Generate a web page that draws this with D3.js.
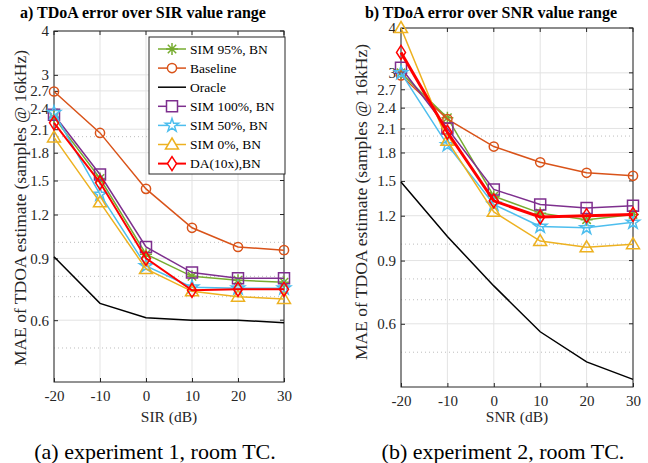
<!DOCTYPE html>
<html>
<head>
<meta charset="utf-8">
<script src="https://cdn.jsdelivr.net/npm/d3@7"></script>
<style>
  body { margin: 0; background: #fff; }
  svg text { font-family: "Liberation Serif", "DejaVu Serif", "Times New Roman", Times, serif; }
</style>
</head>
<body>
<svg width="648" height="463" font-family="Liberation Serif, DejaVu Serif, serif"></svg>
<script>
var xVals = [-20, -10, 0, 10, 20, 30];
var yTicks = [0.6, 0.9, 1.2, 1.5, 1.8, 2.1, 2.4, 2.7, 3, 4];
var yMinor = [0.5, 0.7, 0.8, 1, 2];

var names = ["SIM 95%, BN", "Baseline", "Oracle", "SIM 100%, BN", "SIM 50%, BN", "SIM 0%, BN", "DA(10x),BN"];
var colors = ["#77AC30", "#D95319", "#000000", "#7E2F8E", "#4DBEEE", "#EDB120", "#FF0000"];
var markers = ["asterisk", "circle", "none", "square", "star", "triangle", "diamond"];

// experiment 1: SIR
var sirSim95 = [2.27, 1.52, 0.925, 0.80, 0.78, 0.77];
var sirBaseline = [2.69, 2.05, 1.42, 1.10, 0.97, 0.95];
var sirOracle = [0.91, 0.67, 0.61, 0.60, 0.60, 0.59];
var sirSim100 = [2.31, 1.56, 0.97, 0.82, 0.79, 0.79];
var sirSim50 = [2.34, 1.37, 0.857, 0.745, 0.74, 0.74];
var sirSim0 = [1.99, 1.30, 0.84, 0.725, 0.70, 0.69];
var sirDA = [2.19, 1.48, 0.90, 0.73, 0.735, 0.735];

// experiment 2: SNR
var snrSim95 = [3.0, 2.25, 1.36, 1.22, 1.17, 1.21];
var snrBaseline = [2.95, 2.23, 1.87, 1.69, 1.58, 1.55];
var snrOracle = [1.49, 1.05, 0.765, 0.57, 0.47, 0.42];
var snrSim100 = [3.1, 2.1, 1.42, 1.29, 1.26, 1.28];
var snrSim50 = [3.0, 1.89, 1.29, 1.12, 1.11, 1.15];
var snrSim0 = [4.0, 1.94, 1.23, 1.02, 0.98, 1.0];
var snrDA = [3.42, 2.05, 1.32, 1.19, 1.2, 1.21];

var svg = d3.select("svg");
svg.append("rect").attr("width", 648).attr("height", 463).attr("fill", "#fff");

function markerPath(type) {
  switch (type) {
    case "circle": return d3.symbol(d3.symbolCircle, 66)();
    case "square": return "M-5.5,-5.5L5.5,-5.5L5.5,5.5L-5.5,5.5Z";
    case "triangle": return "M0,-6.5L6.5,4.5L-6.5,4.5Z";
    case "diamond": return "M0,-7L4.5,0L0,7L-4.5,0Z";
    case "star": return d3.symbol(d3.symbolStar, 55)();
    case "asterisk": return "M-6,0L6,0M0,-6L0,6M-4.2,-4.2L4.2,4.2M-4.2,4.2L4.2,-4.2";
  }
  return null;
}

function drawPanel(p) {
  var x = d3.scaleLinear().domain([-20, 30]).range([p.left, p.right]);
  var y = d3.scaleLog().domain([0.4, 4]).range([p.bottom, p.top]);
  var g = svg.append("g");

  // grid
  g.selectAll(".vg").data(xVals).enter().append("line")
    .attr("x1", function(d) { return x(d); }).attr("x2", function(d) { return x(d); })
    .attr("y1", p.top).attr("y2", p.bottom)
    .attr("stroke", "#e3e3e3").attr("stroke-width", 1);
  g.selectAll(".hg").data(yTicks).enter().append("line")
    .attr("x1", p.left).attr("x2", p.right)
    .attr("y1", function(d) { return y(d); }).attr("y2", function(d) { return y(d); })
    .attr("stroke", "#e3e3e3").attr("stroke-width", 1);
  g.selectAll(".mg").data(yMinor).enter().append("line")
    .attr("x1", p.left).attr("x2", p.right)
    .attr("y1", function(d) { return y(d); }).attr("y2", function(d) { return y(d); })
    .attr("stroke", "#bdbdbd").attr("stroke-width", 1).attr("stroke-dasharray", "1,3");

  // axes
  var ax = g.append("g").attr("transform", "translate(0," + p.bottom + ")")
    .call(d3.axisBottom(x).tickValues(xVals).tickSize(-4).tickPadding(8).tickFormat(function(d) { return String(d); }));
  var ay = g.append("g").attr("transform", "translate(" + p.left + ",0)")
    .call(d3.axisLeft(y).tickValues(yTicks).tickSize(-4).tickPadding(5).tickFormat(function(d) { return String(d); }));
  [ax, ay].forEach(function(a) {
    a.attr("font-family", null).attr("font-size", null);
    a.select(".domain").remove();
    a.selectAll("line").attr("stroke", "#262626");
    a.selectAll("text").attr("fill", "#262626").style("font-size", "15px");
  });
  // box with ticks on opposite sides
  g.append("rect").attr("x", p.left).attr("y", p.top)
    .attr("width", p.right - p.left).attr("height", p.bottom - p.top)
    .attr("fill", "none").attr("stroke", "#262626").attr("stroke-width", 1);
  g.selectAll(".tt").data(xVals).enter().append("line")
    .attr("x1", function(d) { return x(d); }).attr("x2", function(d) { return x(d); })
    .attr("y1", p.top).attr("y2", p.top + 4).attr("stroke", "#262626");
  g.selectAll(".rt").data(yTicks).enter().append("line")
    .attr("x1", p.right).attr("x2", p.right - 4)
    .attr("y1", function(d) { return y(d); }).attr("y2", function(d) { return y(d); })
    .attr("stroke", "#262626");

  // series
  var line = d3.line().x(function(d, i) { return x(xVals[i]); }).y(function(d) { return y(d); });
  p.series.forEach(function(s, k) {
    var w = (k === 6) ? p.redWidth : 1.5;
    g.append("path").attr("d", line(s)).attr("fill", "none")
      .attr("stroke", colors[k]).attr("stroke-width", w);
    if (markers[k] !== "none") {
      g.selectAll(".m" + k).data(s).enter().append("path")
        .attr("d", markerPath(markers[k]))
        .attr("transform", function(d, i) { return "translate(" + x(xVals[i]) + "," + y(d) + ")"; })
        .attr("fill", "none").attr("stroke", colors[k]).attr("stroke-width", 1.5);
    }
  });

  // labels
  svg.append("text").attr("x", p.titleX).attr("y", 18)
    .attr("text-anchor", "middle").style("font-size", "16px").style("font-weight", "bold")
    .text(p.title);
  svg.append("text").attr("transform", "translate(" + p.yLabelX + "," + p.yLabelY + ") rotate(-90)")
    .attr("text-anchor", "middle").attr("fill", "#262626").style("font-size", "17.5px")
    .text("MAE of TDOA estimate (samples @ 16kHz)");
  svg.append("text").attr("x", (p.left + p.right) / 2).attr("y", 422)
    .attr("text-anchor", "middle").attr("fill", "#262626").style("font-size", "15.5px")
    .text(p.xLabel);
  svg.append("text").attr("x", p.captionX).attr("y", 459)
    .attr("text-anchor", "middle").attr("fill", "#000").style("font-size", "22px")
    .text(p.caption);
}

drawPanel({
  left: 54, right: 284, top: 31, bottom: 382,
  series: [sirSim95, sirBaseline, sirOracle, sirSim100, sirSim50, sirSim0, sirDA],
  redWidth: 2,
  title: "a) TDoA error over SIR value range", titleX: 143,
  yLabelX: 26, yLabelY: 208, xLabel: "SIR (dB)",
  caption: "(a) experiment 1, room TC.", captionX: 155
});

drawPanel({
  left: 401, right: 633, top: 28, bottom: 387,
  series: [snrSim95, snrBaseline, snrOracle, snrSim100, snrSim50, snrSim0, snrDA],
  redWidth: 3,
  title: "b) TDoA error over SNR value range", titleX: 491,
  yLabelX: 367, yLabelY: 202, xLabel: "SNR (dB)",
  caption: "(b) experiment 2, room TC.", captionX: 503
});

// legend (left panel)
var lg = svg.append("g").attr("transform", "translate(149,37)");
lg.append("rect").attr("width", 136).attr("height", 137)
  .attr("fill", "#fff").attr("stroke", "#262626").attr("stroke-width", 1);
names.forEach(function(n, k) {
  var yy = 12 + k * 19.1;
  lg.append("line").attr("x1", 9).attr("x2", 37).attr("y1", yy).attr("y2", yy)
    .attr("stroke", colors[k]).attr("stroke-width", k === 6 ? 2 : 1.5);
  if (markers[k] !== "none") {
    lg.append("path").attr("d", markerPath(markers[k]))
      .attr("transform", "translate(23," + yy + ")")
      .attr("fill", "#fff").attr("stroke", colors[k]).attr("stroke-width", 1.5);
  }
  lg.append("text").attr("x", 41).attr("y", yy + 4.5)
    .attr("fill", "#000").style("font-size", "13.5px").text(n);
});
</script>
</body>
</html>
